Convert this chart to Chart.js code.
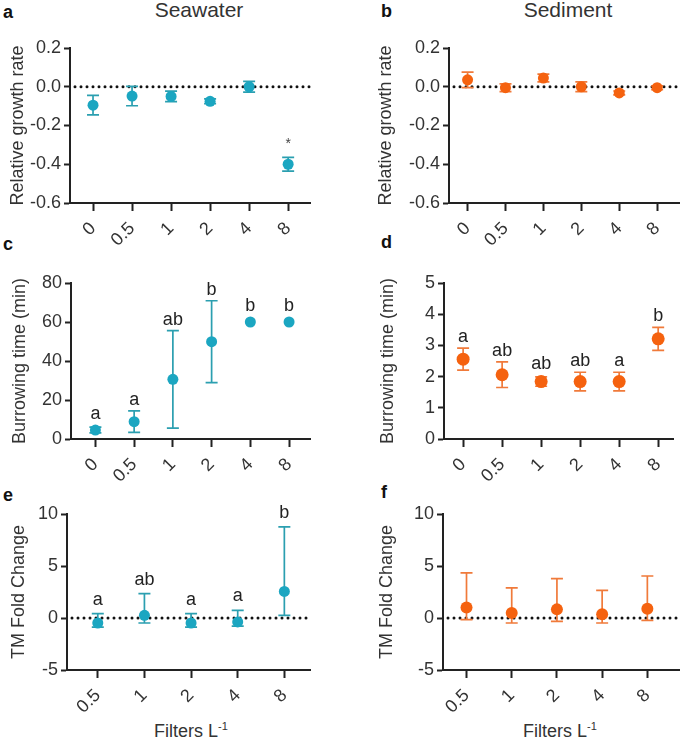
<!DOCTYPE html>
<html>
<head>
<meta charset="utf-8">
<script src="https://cdn.jsdelivr.net/npm/chart.js@4.4.0/dist/chart.umd.min.js"></script>
<style>
  html, body { margin: 0; padding: 0; background: #fff; width: 685px; height: 745px; overflow: hidden; }
  body { position: relative; font-family: 'Liberation Sans', Arial, sans-serif; color: #222; }
  canvas { position: absolute; }
  .lbl { position: absolute; font-weight: bold; font-size: 18px; line-height: 1; color: #111; }
  .ttl { position: absolute; font-size: 21px; line-height: 1; transform: translateX(-50%); white-space: nowrap; color: #333; }
  .xt { position: absolute; font-size: 18px; line-height: 1; transform: translateX(-50%); white-space: nowrap; color: #333; }
  .xt sup { font-size: 11px; vertical-align: 7px; }
</style>
</head>
<body>
<div class="lbl" style="left:3px; top:3px">a</div>
<div class="lbl" style="left:381px; top:2px">b</div>
<div class="lbl" style="left:3px; top:235px">c</div>
<div class="lbl" style="left:381px; top:233px">d</div>
<div class="lbl" style="left:3px; top:486px">e</div>
<div class="lbl" style="left:381px; top:483px">f</div>
<div class="ttl" style="left:199px; top:-1px">Seawater</div>
<div class="ttl" style="left:568px; top:-1px">Sediment</div>
<div class="xt" style="left:191px; top:721px">Filters L<sup>-1</sup></div>
<div class="xt" style="left:560px; top:721px">Filters L<sup>-1</sup></div>

<canvas id="pa" width="340" height="217" style="left:0; top:28px"></canvas>
<canvas id="pb" width="345" height="217" style="left:340px; top:28px"></canvas>
<canvas id="pc" width="340" height="228" style="left:0; top:262px"></canvas>
<canvas id="pd" width="345" height="228" style="left:340px; top:262px"></canvas>
<canvas id="pe" width="340" height="250" style="left:0; top:495px"></canvas>
<canvas id="pf" width="345" height="250" style="left:340px; top:495px"></canvas>

<script>
const doseLabels = ['0', '0.5', '1', '2', '4', '8'];
const tmLabels = ['0.5', '1', '2', '4', '8'];

// a - relative growth rate, seawater
const growthSea = [-0.095, -0.048, -0.05, -0.075, 0.0, -0.40];
const growthSeaErr = [0.05, 0.05, 0.027, 0.012, 0.028, 0.035];
const growthSeaSig = ['', '', '', '', '', '*'];

// b - relative growth rate, sediment
const growthSed = [0.036, -0.005, 0.045, 0.0, -0.032, -0.005];
const growthSedErr = [0.04, 0.02, 0.02, 0.025, 0.01, 0.01];

// c - burrowing time, seawater
const burrowSea = [4.6, 8.9, 30.6, 49.9, 60, 60];
const burrowSeaErr = [1.5, 5.5, 25, 21, 0, 0];
const burrowSeaSig = ['a', 'a', 'ab', 'b', 'b', 'b'];

// d - burrowing time, sediment
const burrowSed = [2.56, 2.06, 1.84, 1.84, 1.84, 3.21];
const burrowSedErr = [0.35, 0.41, 0.15, 0.3, 0.3, 0.37];
const burrowSedSig = ['a', 'ab', 'ab', 'ab', 'a', 'b'];

// e - TM fold change, seawater
const tmSea = [-0.48, 0.26, -0.48, -0.38, 2.56];
const tmSeaUp = [0.9, 2.08, 0.9, 1.12, 6.2];
const tmSeaDown = [0.4, 0.74, 0.4, 0.4, 2.3];
const tmSeaSig = ['a', 'ab', 'a', 'a', 'b'];

// f - TM fold change, sediment
const tmSed = [1.0, 0.48, 0.83, 0.35, 0.9];
const tmSedUp = [3.33, 2.41, 2.95, 2.31, 3.14];
const tmSedDown = [1.16, 0.96, 1.15, 0.83, 1.12];

const TEAL = '#1ba6c1', TEAL_BAR = '#2b9fb0';
const ORANGE = '#f5620f', ORANGE_BAR = '#f07a3a';
const AXIS = '#222';
const FONT = "'Liberation Sans', Arial, sans-serif";

const zeroLine = {
  id: 'zeroLine',
  beforeDatasetsDraw(chart) {
    const ds = chart.data.datasets[0];
    if (!ds.zero) return;
    const { ctx, chartArea, scales: { y } } = chart;
    const py = y.getPixelForValue(0);
    ctx.save();
    ctx.strokeStyle = '#111';
    ctx.lineWidth = 3;
    ctx.lineCap = 'round';
    ctx.setLineDash([0, 6]);
    ctx.beginPath();
    ctx.moveTo(chartArea.left + 5, py);
    ctx.lineTo(chartArea.right, py);
    ctx.stroke();
    ctx.restore();
  }
};

const errBars = {
  id: 'errBars',
  beforeDatasetsDraw(chart) {
    const ds = chart.data.datasets[0];
    const { ctx, scales: { x, y } } = chart;
    ctx.save();
    ctx.strokeStyle = ds.barColor;
    ctx.lineWidth = 1.7;
    ds.data.forEach((pt, i) => {
      if (!ds.errUp[i] && !ds.errDown[i]) return;
      const px = x.getPixelForValue(pt.x);
      const top = y.getPixelForValue(pt.y + ds.errUp[i]);
      const bot = y.getPixelForValue(pt.y - ds.errDown[i]);
      ctx.beginPath();
      ctx.moveTo(px, top); ctx.lineTo(px, bot);
      ctx.moveTo(px - 6, top); ctx.lineTo(px + 6, top);
      ctx.moveTo(px - 6, bot); ctx.lineTo(px + 6, bot);
      ctx.stroke();
    });
    ctx.restore();
  }
};

const sigLetters = {
  id: 'sigLetters',
  afterDatasetsDraw(chart) {
    const ds = chart.data.datasets[0];
    if (!ds.sig) return;
    const { ctx, scales: { x, y } } = chart;
    ctx.save();
    ctx.fillStyle = ds.sigColor;
    ctx.font = ds.sigFont;
    ctx.textAlign = 'center';
    ctx.textBaseline = 'alphabetic';
    ds.data.forEach((pt, i) => {
      if (!ds.sig[i]) return;
      const top = Math.min(y.getPixelForValue(pt.y + ds.errUp[i]), y.getPixelForValue(pt.y) - ds.pointRadius);
      ctx.fillText(ds.sig[i], x.getPixelForValue(pt.x), top - ds.sigGap);
    });
    ctx.restore();
  }
};

function panel(id, p) {
  return new Chart(document.getElementById(id), {
    type: 'scatter',
    data: {
      datasets: [{
        data: p.values.map((v, i) => ({ x: i, y: v })),
        pointRadius: p.radius,
        pointHoverRadius: p.radius,
        backgroundColor: p.color,
        borderWidth: 0,
        errUp: p.up,
        errDown: p.down,
        barColor: p.barColor,
        zero: p.zero,
        sig: p.sig,
        sigFont: p.sigFont || ('18px ' + FONT),
        sigColor: p.sigColor || '#222',
        sigGap: p.sigGap || 6
      }]
    },
    options: {
      responsive: false,
      animation: false,
      events: [],
      layout: { padding: { top: p.padTop, right: p.padRight, left: 0, bottom: 0 } },
      plugins: { legend: { display: false }, tooltip: { enabled: false } },
      scales: {
        x: {
          type: 'linear',
          min: p.xMin,
          max: p.xMax,
          afterBuildTicks: s => { s.ticks = p.labels.map((_, i) => ({ value: i })); },
          afterFit: s => { s.height = p.xH; },
          ticks: {
            callback: v => p.labels[v],
            autoSkip: false,
            minRotation: 45,
            maxRotation: 45,
            padding: 7,
            color: '#333',
            font: { family: FONT, size: 18 }
          },
          grid: { drawOnChartArea: false, tickLength: 8, tickWidth: 2, tickColor: AXIS },
          border: { color: AXIS, width: 2 }
        },
        y: {
          min: p.yMin,
          max: p.yMax,
          afterFit: s => { s.width = p.yW; },
          ticks: {
            stepSize: p.yStep,
            callback: v => p.yFmt(v),
            padding: 3,
            color: '#333',
            font: { family: FONT, size: 18 }
          },
          title: {
            display: true,
            text: p.yTitle,
            color: '#333',
            font: { family: FONT, size: 18 },
            padding: { top: p.titlePad, bottom: 0 }
          },
          grid: { drawOnChartArea: false, tickLength: 6, tickWidth: 2, tickColor: AXIS },
          border: { color: AXIS, width: 2 }
        }
      }
    },
    plugins: [zeroLine, errBars, sigLetters]
  });
}

const one = v => v.toFixed(1);
const int = v => String(Math.round(v));

panel('pa', {
  labels: doseLabels, values: growthSea, up: growthSeaErr, down: growthSeaErr,
  color: TEAL, barColor: TEAL_BAR, radius: 5.5, zero: true,
  sig: growthSeaSig, sigFont: '14px ' + FONT, sigColor: '#444', sigGap: 9,
  xMin: -0.59, xMax: 5.56, yMin: -0.6, yMax: 0.2, yStep: 0.2, yFmt: one,
  yTitle: 'Relative growth rate', yW: 70, xH: 42, padTop: 20, padRight: 30, titlePad: 7
});

panel('pb', {
  labels: doseLabels, values: growthSed, up: growthSedErr, down: growthSedErr,
  color: ORANGE, barColor: ORANGE_BAR, radius: 5.5, zero: true,
  xMin: -0.49, xMax: 5.59, yMin: -0.6, yMax: 0.2, yStep: 0.2, yFmt: one,
  yTitle: 'Relative growth rate', yW: 109, xH: 42, padTop: 20, padRight: 0, titlePad: 35
});

panel('pc', {
  labels: doseLabels, values: burrowSea, up: burrowSeaErr, down: burrowSeaErr,
  color: TEAL, barColor: TEAL_BAR, radius: 5.5, zero: false,
  sig: burrowSeaSig, sigGap: 6,
  xMin: -0.63, xMax: 5.54, yMin: 0, yMax: 80, yStep: 20, yFmt: int,
  yTitle: 'Burrowing time (min)', yW: 71, xH: 51, padTop: 21, padRight: 30, titlePad: 9
});

panel('pd', {
  labels: doseLabels, values: burrowSed, up: burrowSedErr, down: burrowSedErr,
  color: ORANGE, barColor: ORANGE_BAR, radius: 6.5, zero: false,
  sig: burrowSedSig, sigGap: 6,
  xMin: -0.49, xMax: 5.38, yMin: 0, yMax: 5, yStep: 1, yFmt: int,
  yTitle: 'Burrowing time (min)', yW: 104, xH: 51, padTop: 21, padRight: 12, titlePad: 37
});

panel('pe', {
  labels: tmLabels, values: tmSea, up: tmSeaUp, down: tmSeaDown,
  color: TEAL, barColor: TEAL_BAR, radius: 5.5, zero: true,
  sig: tmSeaSig, sigGap: 9,
  xMin: -0.66, xMax: 4.55, yMin: -5, yMax: 10, yStep: 5, yFmt: int,
  yTitle: 'TM Fold Change', yW: 67, xH: 75, padTop: 19, padRight: 30, titlePad: 8
});

panel('pf', {
  labels: tmLabels, values: tmSed, up: tmSedUp, down: tmSedDown,
  color: ORANGE, barColor: ORANGE_BAR, radius: 6, zero: true,
  xMin: -0.52, xMax: 4.70, yMin: -5, yMax: 10, yStep: 5, yFmt: int,
  yTitle: 'TM Fold Change', yW: 103, xH: 75, padTop: 19, padRight: 0, titlePad: 36
});
</script>
</body>
</html>
